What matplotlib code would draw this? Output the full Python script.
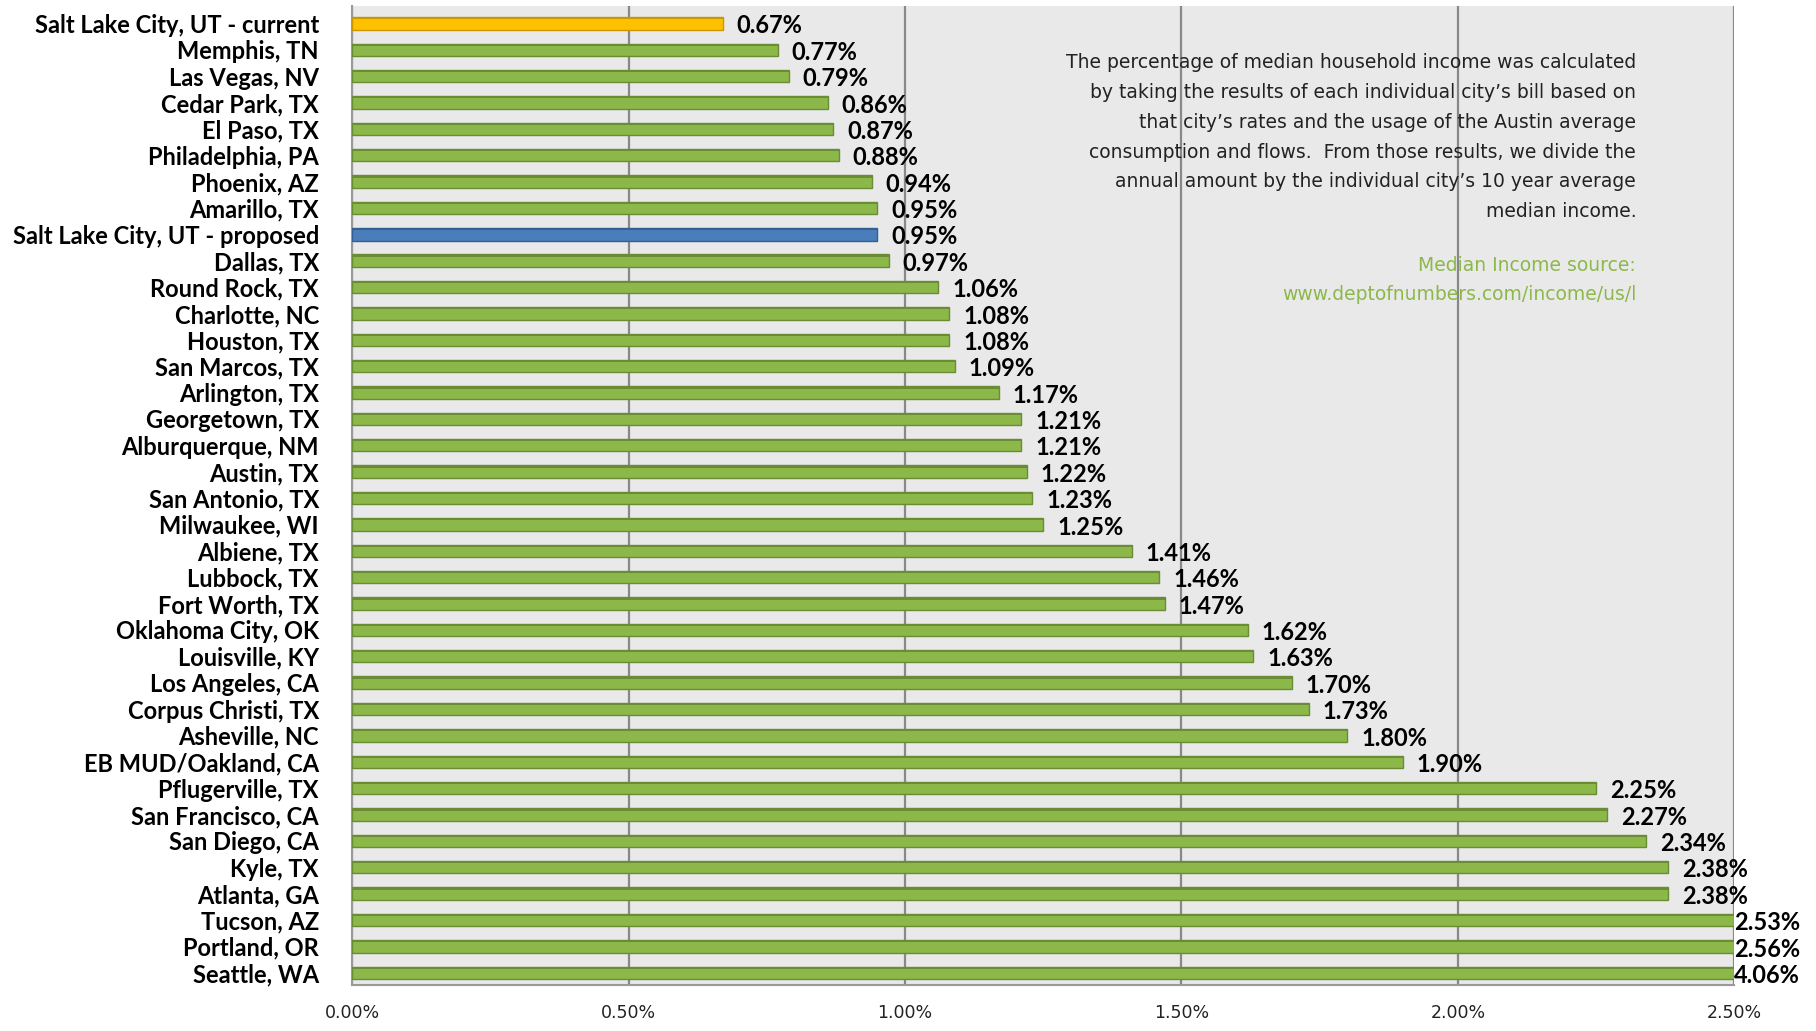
import matplotlib
matplotlib.use("Agg")
import matplotlib.pyplot as plt
import numpy as np

# cidades de cima para baixo, valores em %
cities = ["Salt Lake City, UT - current", "Memphis, TN", "Las Vegas, NV", "Cedar Park, TX",
          "El Paso, TX", "Philadelphia, PA", "Phoenix, AZ", "Amarillo, TX",
          "Salt Lake City, UT - proposed", "Dallas, TX", "Round Rock, TX", "Charlotte, NC",
          "Houston, TX", "San Marcos, TX", "Arlington, TX", "Georgetown, TX",
          "Alburquerque, NM", "Austin, TX", "San Antonio, TX", "Milwaukee, WI",
          "Albiene, TX", "Lubbock, TX", "Fort Worth, TX", "Oklahoma City, OK",
          "Louisville, KY", "Los Angeles, CA", "Corpus Christi, TX", "Asheville, NC",
          "EB MUD/Oakland, CA", "Pflugerville, TX", "San Francisco, CA", "San Diego, CA",
          "Kyle, TX", "Atlanta, GA", "Tucson, AZ", "Portland, OR", "Seattle, WA"]
values = [0.67, 0.77, 0.79, 0.86, 0.87, 0.88, 0.94, 0.95, 0.95, 0.97, 1.06, 1.08, 1.08,
          1.09, 1.17, 1.21, 1.21, 1.22, 1.23, 1.25, 1.41, 1.46, 1.47, 1.62, 1.63, 1.70,
          1.73, 1.80, 1.90, 2.25, 2.27, 2.34, 2.38, 2.38, 2.53, 2.56, 4.06]
xticks = [0.0, 0.5, 1.0, 1.5, 2.0, 2.5]

note = ("The percentage of median household income was calculated\n"
        "by taking the results of each individual city\u2019s bill based on\n"
        "that city\u2019s rates and the usage of the Austin average\n"
        "consumption and flows.  From those results, we divide the\n"
        "annual amount by the individual city\u2019s 10 year average\n"
        "median income.")
source = "Median Income source:\nwww.deptofnumbers.com/income/us/l"

xmax = 2.5
green, green_dark = "#8cb84a", "#6a8c34"
colors = [green] * len(cities)
colors[0] = "#ffc000"
colors[8] = "#4a7ebb"
dark = [green_dark] * len(cities)
dark[0] = "#c99700"
dark[8] = "#355f94"

label_font = "Lato"
note_font = "DejaVu Sans"

fig = plt.figure(figsize=(18.16, 10.31), dpi=100)
ax = fig.add_axes([0.194, 0.045, 0.761, 0.949])
ax.set_facecolor("#e9e9e9")

y = np.arange(len(cities))
shown = np.minimum(values, xmax)
ax.barh(y, shown, height=0.47, color=colors, edgecolor=dark, linewidth=1.0, zorder=3)
# faixa escura no topo (efeito 3D)
ax.barh(y - 0.19, shown, height=0.08, color=dark, linewidth=0, zorder=4)

for yi, v in zip(y, values):
    ax.text(min(v + 0.025, xmax), yi + 0.1, f"{v:.2f}%", va="center", ha="left",
            fontsize=17, fontweight="bold", family=label_font, clip_on=False, zorder=5)

ax.set_xlim(0, xmax)
ax.set_ylim(len(cities) - 0.55, -0.65)
ax.set_xticks(xticks)
ax.set_xticklabels([f"{t:.2f}%" for t in xticks], fontsize=12.5, family=note_font,
                   color="#222222")
ax.set_yticks(y)
ax.set_yticklabels(cities, fontsize=17, fontweight="bold", family=label_font)
ax.tick_params(axis="y", length=0, pad=24)
ax.tick_params(axis="x", length=0, pad=14)
ax.xaxis.grid(True, color="#888888", linewidth=1.6, zorder=1)
ax.set_axisbelow(True)
for side in ["top", "right"]:
    ax.spines[side].set_visible(False)
ax.spines["left"].set_color("#999999")
ax.spines["bottom"].set_color("#999999")
ax.spines["left"].set_linewidth(1.5)
ax.spines["bottom"].set_linewidth(1.5)

ax.text(0.929, 0.952, note, transform=ax.transAxes, ha="right", va="top",
        fontsize=13.5, family=note_font, linespacing=1.72, color="#222222")
ax.text(0.929, 0.745, source, transform=ax.transAxes, ha="right", va="top",
        fontsize=13.5, family=note_font, linespacing=1.72, color="#8cb84a")

fig.savefig("out.png", dpi=100)
